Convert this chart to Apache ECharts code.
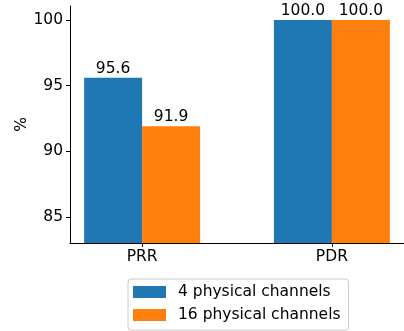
<!DOCTYPE html>
<html>
<head>
<meta charset="utf-8">
<script src="https://cdn.jsdelivr.net/npm/echarts@6/dist/echarts.min.js"></script>
<style>html,body{margin:0;padding:0;background:#fff}#c{width:404px;height:331px}</style>
</head>
<body>
<div id="c"></div>
<script>
var categories = ['PRR', 'PDR'];
var seriesNames = ['4 physical channels', '16 physical channels'];
var values4 = [95.6, 100.0];
var values16 = [91.9, 100.0];
var yTicks = [85, 90, 95, 100];
var colors = ['#1f77b4', '#ff7f0e'];

var FONT = 'DejaVu Sans';
var FS = 15.5;
var chart = echarts.init(document.getElementById('c'), null, {renderer: 'canvas'});

function mk(vals){ return vals.map(function(v,i){ return [i, v]; }); }

chart.setOption({
  animation: false,
  textStyle: {fontFamily: FONT},
  grid: {left: 70, right: -4, top: 6, bottom: 88, containLabel: false},
  xAxis: {
    type: 'value', min: -0.38, max: 1.38,
    splitLine: {show: false},
    axisLine: {show: true, onZero: false, lineStyle: {color: '#000', width: 1}},
    axisTick: {show: true, length: 4, lineStyle: {color: '#000'}, customValues: [0, 1]},
    axisLabel: {customValues: [0, 1], margin: 6, color: '#000', fontSize: FS, fontFamily: FONT,
      formatter: function(v){ return categories[Math.round(v)]; }}
  },
  yAxis: {
    type: 'value', min: 83, max: 101.07,
    name: '%', nameLocation: 'middle', nameGap: 40, nameRotate: 90, nameMoveOverlap: false,
    nameTextStyle: {color: '#000', fontSize: FS, fontFamily: FONT},
    splitLine: {show: false},
    axisLine: {show: true, onZero: false, lineStyle: {color: '#000', width: 1}},
    axisTick: {show: true, length: 4, lineStyle: {color: '#000'}, customValues: yTicks},
    axisLabel: {customValues: yTicks, margin: 7, color: '#000', fontSize: FS, fontFamily: FONT}
  },
  legend: {
    orient: 'vertical', left: 128, top: 279,
    data: seriesNames,
    itemWidth: 33, itemHeight: 12, itemGap: 5,
    padding: [4, 8, 6, 5],
    borderColor: '#cccccc', borderWidth: 1, borderRadius: 3,
    icon: 'rect',
    textStyle: {color: '#000', fontSize: FS, fontFamily: FONT, lineHeight: 18, padding: [0, 0, 0, 7]}
  },
  series: [
    {name: seriesNames[0], type: 'bar', data: mk(values4), barWidth: 58, barGap: '0%',
     itemStyle: {color: colors[0]},
     label: {show: true, position: 'top', distance: 1, color: '#000', fontSize: FS, fontFamily: FONT,
       formatter: function(p){ return p.value[1].toFixed(1); }}},
    {name: seriesNames[1], type: 'bar', data: mk(values16), barWidth: 58, barGap: '0%',
     itemStyle: {color: colors[1]},
     label: {show: true, position: 'top', distance: 1, color: '#000', fontSize: FS, fontFamily: FONT,
       formatter: function(p){ return p.value[1].toFixed(1); }}}
  ]
});
</script>
</body>
</html>
